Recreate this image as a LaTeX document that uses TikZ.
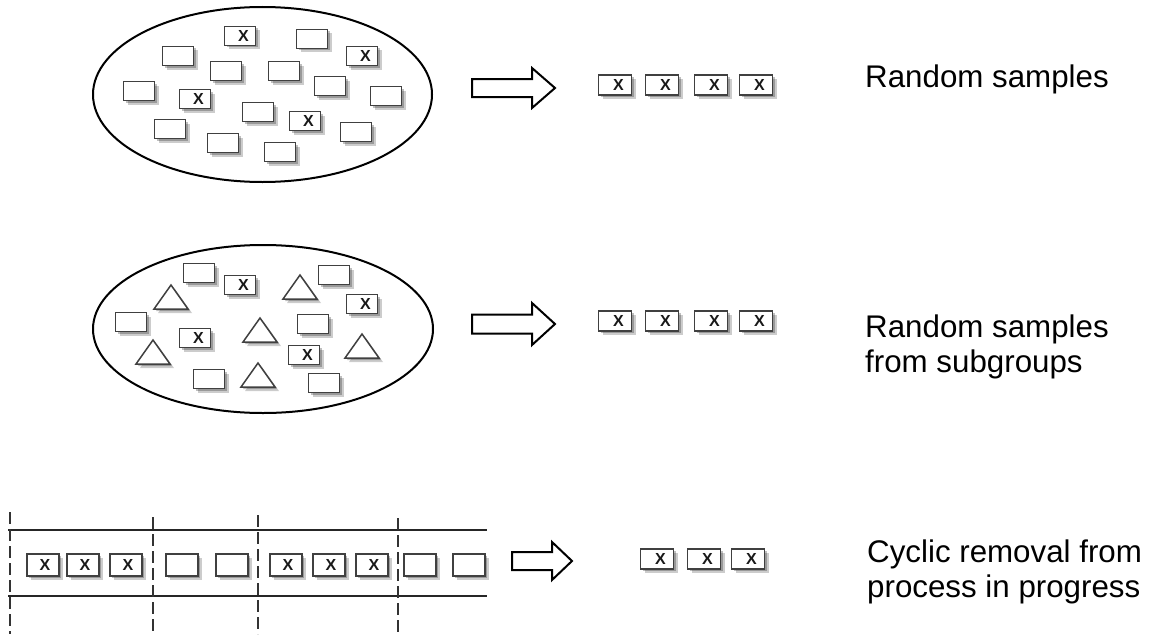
\documentclass[tikz,border=0pt]{standalone}
\usepackage{fontspec}
\setmainfont{Liberation Sans}
\usetikzlibrary{shapes.geometric,shadows}
\begin{document}
\begin{tikzpicture}[x=1pt,y=-1pt,
  shd/.style={drop shadow={opacity=0.25,shadow xshift=2pt,shadow yshift=-2pt,fill=black},
              drop shadow={opacity=0.2,shadow xshift=4pt,shadow yshift=-4pt,fill=black}},
  item/.style={draw=black!75,line width=1.5pt,fill=white,rectangle,minimum width=31pt,minimum height=19pt,inner sep=0pt,shd},
  xitem/.style={item,font=\fontsize{16}{16}\selectfont\bfseries,text=black!90},
  samp/.style={xitem,minimum width=33pt,minimum height=20pt},
  pool/.style={draw=black,line width=2pt,ellipse,inner sep=0pt},
  blockarrow/.style={draw=black,line width=2pt,fill=white,line join=miter},
  tri/.style={draw=black!75,line width=1.5pt,fill=white,shd},
  lane/.style={draw=black!85,line width=2pt},
  cut/.style={draw=black!80,line width=1.3pt,dash pattern=on 12pt off 5pt},
  lbl/.style={font=\fontsize{31.3}{35}\selectfont,anchor=base west,align=left,inner sep=0pt}
]
\useasboundingbox (0,0) rectangle (1150,634);

% ---------- Section 1 ----------
\node[pool,minimum width=339pt,minimum height=175pt] (pop1) at (262.5,94.5) {};
\foreach \n/\p in {a/{240,36},b/{362,56},c/{195,99},d/{305,121}}
  \node[xitem] (p1x\n) at (\p) {\hspace{7pt}X};
\foreach \n/\p in {a/{312,39},b/{178,56},c/{226,71},d/{284,71},e/{330,86},f/{139,91},g/{386,96},h/{258,112},i/{170,129},j/{356,132},k/{223,143},l/{280,152}}
  \node[item] (p1o\n) at (\p) {};
\coordinate (a1) at (472,88);
\draw[blockarrow] (a1) ++(0,-9) -- ++(60,0) -- ++(0,-11) -- ++(23,20) -- ++(-23,20) -- ++(0,-11) -- ++(-60,0) -- cycle;
\foreach \n/\x in {a/615,b/662,c/711,d/756}
  \node[samp] (s1\n) at (\x,85) {\hspace{7pt}X};
\node[lbl] (t1) at (865,87) {Random samples};

% ---------- Section 2 ----------
\node[pool,minimum width=340pt,minimum height=168pt] (pop2) at (263,329) {};
\foreach \n/\p in {a/{171,297},b/{300,287},c/{260,330},d/{153,352},e/{362,346},f/{258,375}}
  \draw[tri] (\p) ++(0,-12) coordinate (tr\n) -- ++(17,24) -- ++(-34,0) -- cycle;
\foreach \n/\p in {a/{240,285},b/{362,304},c/{195,338},d/{304,355}}
  \node[xitem] (p2x\n) at (\p) {\hspace{7pt}X};
\foreach \n/\p in {a/{199,273},b/{334,275},c/{131,322},d/{313,324},e/{209,379},f/{324,383}}
  \node[item] (p2o\n) at (\p) {};
\coordinate (a2) at (472,324);
\draw[blockarrow] (a2) ++(0,-9.5) -- ++(60,0) -- ++(0,-11.5) -- ++(23,21) -- ++(-23,21) -- ++(0,-11.5) -- ++(-60,0) -- cycle;
\foreach \n/\x in {a/615,b/662,c/711,d/756}
  \node[samp] (s2\n) at (\x,321) {\hspace{7pt}X};
\node[lbl] (t2) at (865,372) {Random samples\\from subgroups};

% ---------- Section 3 ----------
\coordinate (lt0) at (8,530); \coordinate (lt1) at (487,530);
\coordinate (lb0) at (8,596); \coordinate (lb1) at (487,596);
\draw[lane] (lt0) -- (lt1);
\draw[lane] (lb0) -- (lb1);
\foreach \n/\x/\y in {a/10/512,b/153/517,c/258/515,d/398/518}{
  \coordinate (ct\n) at (\x,\y); \coordinate (cb\n) at (\x,634);
  \draw[cut] (ct\n) -- (cb\n);}
\foreach \n/\x in {a/43,b/83,c/126,d/286,e/329,f/372}
  \node[xitem,minimum width=32pt,minimum height=22pt] (q\n) at (\x,565) {\hspace{4pt}X};
\foreach \n/\x in {g/182,h/232,i/420,j/469}
  \node[item,minimum width=32pt,minimum height=22pt] (q\n) at (\x,565) {};
\coordinate (a3) at (512,561);
\draw[blockarrow] (a3) ++(0,-9) -- ++(40,0) -- ++(0,-10) -- ++(20,19) -- ++(-20,19) -- ++(0,-10) -- ++(-40,0) -- cycle;
\foreach \n/\x in {a/657,b/704,c/748}
  \node[samp] (s3\n) at (\x,559) {\hspace{7pt}X};
\node[lbl] (t3) at (867,597) {Cyclic removal from\\process in progress};
\end{tikzpicture}
\end{document}
